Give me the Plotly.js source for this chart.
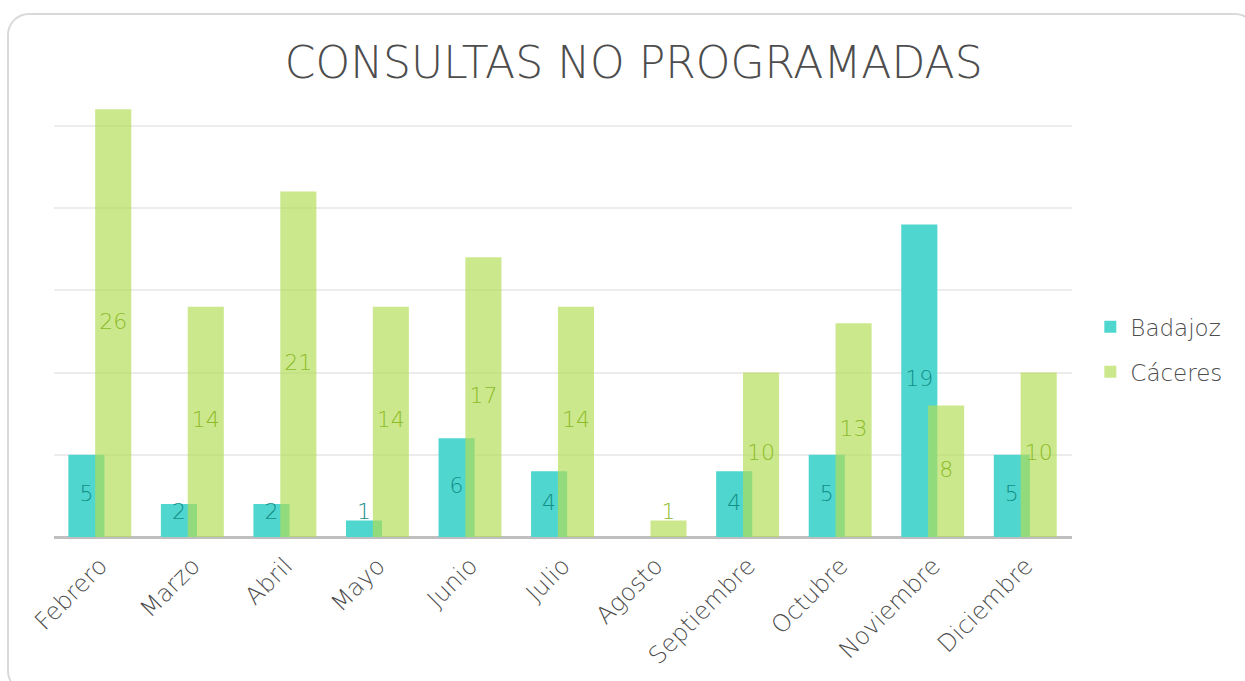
<!DOCTYPE html>
<html>
<head>
<meta charset="utf-8">
<script src="https://cdn.plot.ly/plotly-3.0.1.min.js"></script>
<style>
  html, body { margin:0; padding:0; background:#ffffff; }
  #frame { position:absolute; left:7px; top:13px; width:1250px; height:680px;
           border:2px solid #d9d9d9; border-radius:22px; box-sizing:border-box; }
  #chart { position:absolute; left:0; top:0; width:1245px; height:681px; }
</style>
</head>
<body>
<div id="frame"></div>
<div id="chart"></div>
<script>
const months = ["Febrero","Marzo","Abril","Mayo","Junio","Julio","Agosto","Septiembre","Octubre","Noviembre","Diciembre"];
const badajoz = [5, 2, 2, 1, 6, 4, 0, 4, 5, 19, 5];
const caceres = [26, 14, 21, 14, 17, 14, 1, 10, 13, 8, 10];
const seriesNames = ["Badajoz", "Cáceres"];

const BAR_W = 0.39;
const OFF_A = -0.345;
const OFF_B = -0.055;
const FONT = "'DejaVu Sans', sans-serif";
const TXT = '#4d4d4d';
const idx = months.map((m, i) => i);

function labelY(v) { return Math.max(v / 2, 1.45); }

const traces = [
  { type:'bar', name:seriesNames[0], legendgroup:'a', x:idx, y:badajoz,
    offset:OFF_A, width:BAR_W, marker:{color:'#4fd6cf', line:{width:0}}, hoverinfo:'y' },
  { type:'bar', name:seriesNames[1], legendgroup:'b', x:idx, y:caceres,
    offset:OFF_B, width:BAR_W, marker:{color:'rgba(179,221,84,0.67)', line:{width:0}}, hoverinfo:'y' },
  { type:'scatter', mode:'text', showlegend:false, hoverinfo:'skip',
    x:idx.map(i => i + OFF_A + BAR_W/2), y:badajoz.map(labelY),
    text:badajoz.map(v => v > 0 ? String(v) : ''),
    textfont:{family:FONT, size:22, weight:200, color:'#128f87'} },
  { type:'scatter', mode:'text', showlegend:false, hoverinfo:'skip',
    x:idx.map(i => i + OFF_B + BAR_W/2), y:caceres.map(labelY),
    text:caceres.map(v => v > 0 ? String(v) : ''),
    textfont:{family:FONT, size:22, weight:200, color:'#8dbb2a'} }
];

const layout = {
  width:1245, height:681,
  paper_bgcolor:'rgba(0,0,0,0)', plot_bgcolor:'rgba(0,0,0,0)',
  margin:{l:54, r:173, t:43, b:144},
  barmode:'overlay',
  font:{family:FONT, color:TXT},
  title:{text:'CONSULTAS NO PROGRAMADAS', font:{family:FONT, size:44, weight:200, color:TXT},
         x:0.509, xanchor:'center', y:0.908, yanchor:'middle'},
  xaxis:{ range:[-0.5, 10.5], tickmode:'array', tickvals:idx, ticktext:months,
          tickangle:-45, tickfont:{family:FONT, size:24, weight:200, color:TXT},
          ticklabelstandoff:9,
          showgrid:false, zeroline:false, showline:false, ticks:'', fixedrange:true },
  yaxis:{ range:[0, 30.03], tickvals:[5,10,15,20,25,30], showticklabels:false, showgrid:true,
          gridcolor:'#ececec', gridwidth:2, zeroline:true, zerolinecolor:'#bfbfbf',
          zerolinewidth:3, showline:false, ticks:'', fixedrange:true },
  legend:{ x:1.018, xanchor:'left', y:0.38, yanchor:'middle',
           font:{family:FONT, size:23, weight:200, color:TXT},
           traceorder:'grouped', tracegroupgap:12, itemwidth:30, bgcolor:'rgba(0,0,0,0)' },
  showlegend:true
};

Plotly.newPlot('chart', traces, layout, {displayModeBar:false, staticPlot:true});
</script>
</body>
</html>
